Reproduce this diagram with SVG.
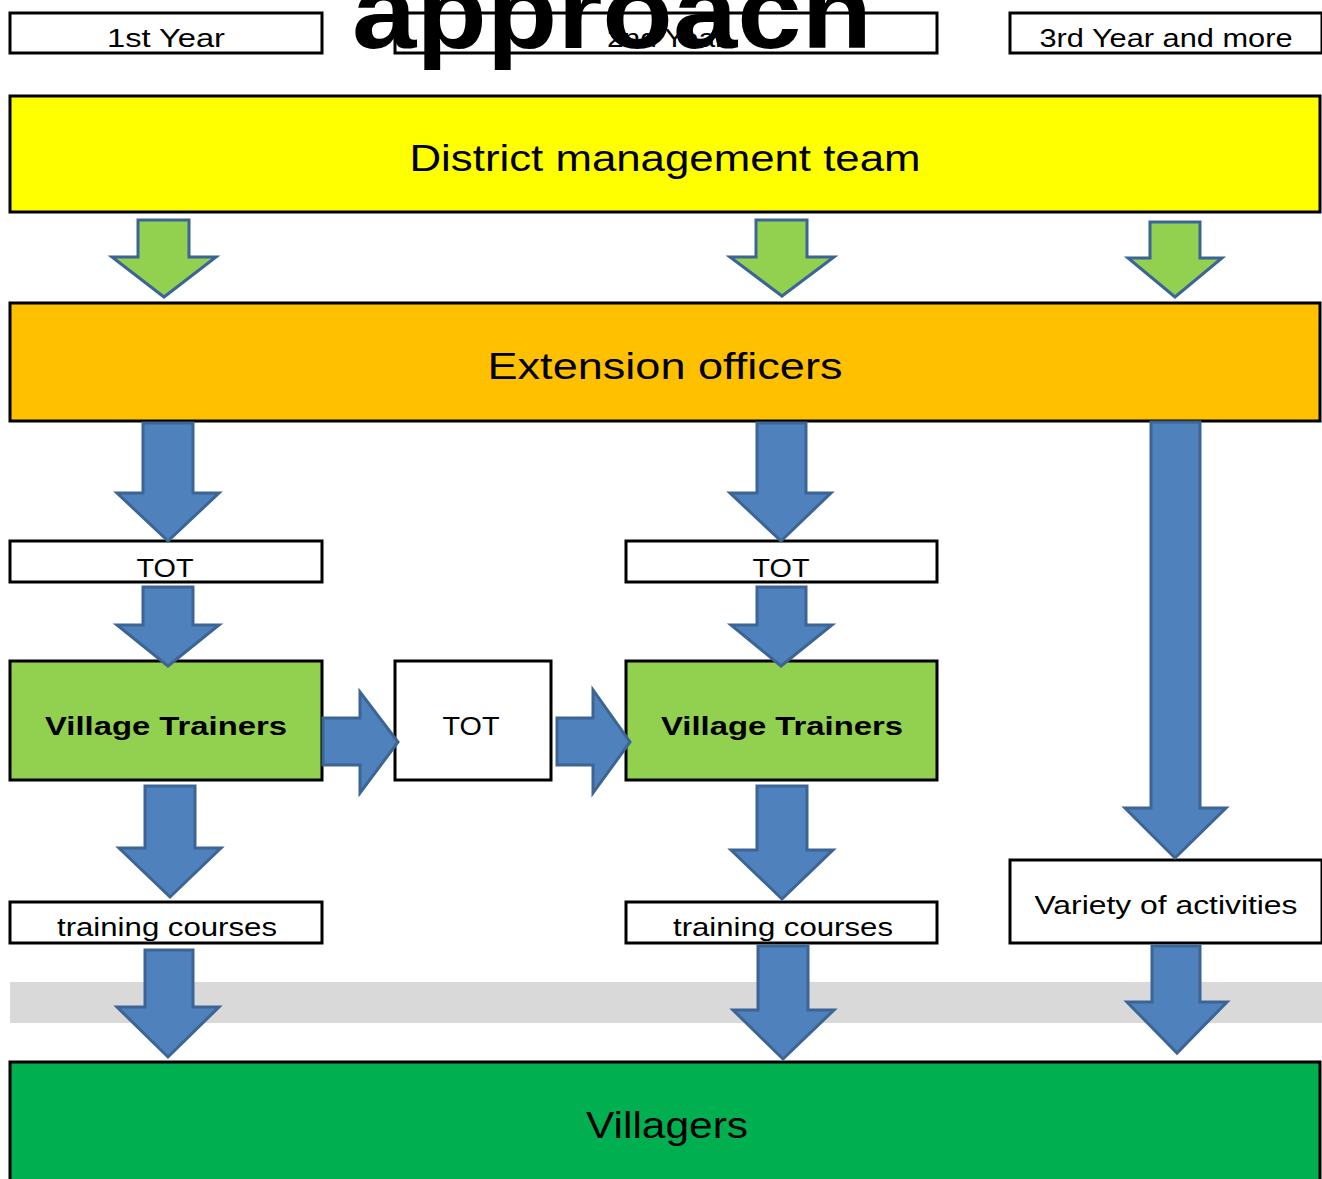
<svg xmlns="http://www.w3.org/2000/svg" width="1322" height="1179" viewBox="0 0 1322 1179">
<style>
.box{stroke:#000;stroke-width:3}
.w{fill:#fff}
.t{font-family:"Liberation Sans",Arial,sans-serif;fill:#000;text-anchor:middle}
.s{font-size:26px}
.l{font-size:37px}
.b{font-weight:bold}
.ab{fill:#4F81BD;stroke:#3C6595;stroke-width:3;stroke-linejoin:miter}
.ag{fill:#92D050;stroke:#3C6595;stroke-width:3;stroke-linejoin:miter}
</style>
<rect x="0" y="0" width="1322" height="1179" fill="#fff"/>
<rect id="band" x="10" y="982" width="1312" height="41" fill="#D9D9D9"/>

<g id="year1"><rect class="box w" x="10" y="13" width="312" height="40"/><text class="t s" x="166" y="47" textLength="118" lengthAdjust="spacingAndGlyphs">1st Year</text></g>
<g id="year2"><rect class="box w" x="395" y="13" width="542" height="40"/><text class="t s" x="666" y="47" textLength="118" lengthAdjust="spacingAndGlyphs">2nd Year</text></g>
<g id="year3"><rect class="box w" x="1010" y="13" width="312" height="40"/><text class="t s" x="1166" y="47" textLength="253" lengthAdjust="spacingAndGlyphs">3rd Year and more</text></g>

<g id="dmt"><rect class="box" x="10" y="96" width="1310" height="116" fill="#FFFF00"/><text class="t l" x="665" y="171" textLength="511" lengthAdjust="spacingAndGlyphs">District management team</text></g>
<g id="eo"><rect class="box" x="10" y="303" width="1310" height="118" fill="#FFC000"/><text class="t l" x="665" y="379" textLength="355" lengthAdjust="spacingAndGlyphs">Extension officers</text></g>

<g id="tot1"><rect class="box w" x="10" y="541" width="312" height="41"/><text class="t s" x="165" y="577" textLength="57" lengthAdjust="spacingAndGlyphs">TOT</text></g>
<g id="tot2"><rect class="box w" x="626" y="541" width="311" height="41"/><text class="t s" x="781" y="577" textLength="57" lengthAdjust="spacingAndGlyphs">TOT</text></g>

<g id="vt1"><rect class="box" x="10" y="661" width="312" height="119" fill="#92D050"/><text class="t s b" x="166" y="735" textLength="242" lengthAdjust="spacingAndGlyphs">Village Trainers</text></g>
<g id="totm"><rect class="box w" x="395" y="661" width="156" height="119"/><text class="t s" x="471" y="735" textLength="57" lengthAdjust="spacingAndGlyphs">TOT</text></g>
<g id="vt2"><rect class="box" x="626" y="661" width="311" height="119" fill="#92D050"/><text class="t s b" x="782" y="735" textLength="242" lengthAdjust="spacingAndGlyphs">Village Trainers</text></g>

<g id="tc1"><rect class="box w" x="10" y="902" width="312" height="41"/><text class="t s" x="167" y="936" textLength="220" lengthAdjust="spacingAndGlyphs">training courses</text></g>
<g id="tc2"><rect class="box w" x="626" y="902" width="311" height="41"/><text class="t s" x="783" y="936" textLength="220" lengthAdjust="spacingAndGlyphs">training courses</text></g>
<g id="voa"><rect class="box w" x="1010" y="860" width="312" height="83"/><text class="t s" x="1166" y="914" textLength="263" lengthAdjust="spacingAndGlyphs">Variety of activities</text></g>

<g id="villagers"><rect class="box" x="10" y="1062" width="1310" height="120" fill="#00B050"/><text class="t l" x="667" y="1138" textLength="162" lengthAdjust="spacingAndGlyphs">Villagers</text></g>

<g id="connectors">
<path class="ag" d="M138,220 L189,220 L189,257 L216,257 L164,297 L112,257 L138,257 Z"/>
<path class="ag" d="M756,220 L807,220 L807,257 L834,257 L782,296 L730,257 L756,257 Z"/>
<path class="ag" d="M1150,222 L1200,222 L1200,258 L1222,258 L1175,297 L1128,258 L1150,258 Z"/>

<path class="ab" d="M143,423 L193,423 L193,493 L219,493 L168,541 L117,493 L143,493 Z"/>
<path class="ab" d="M757,423 L806,423 L806,493 L831,493 L781,541 L730,493 L757,493 Z"/>
<path class="ab" d="M1151,422 L1200,422 L1200,808 L1226,808 L1175,858 L1125,808 L1151,808 Z"/>

<path class="ab" d="M143,587 L193,587 L193,625 L219,625 L168,666 L117,625 L143,625 Z"/>
<path class="ab" d="M757,587 L806,587 L806,625 L832,625 L781,666 L731,625 L757,625 Z"/>

<path class="ab" d="M145,786 L195,786 L195,848 L221,848 L170,897 L119,848 L145,848 Z"/>
<path class="ab" d="M757,786 L807,786 L807,850 L833,850 L782,899 L731,850 L757,850 Z"/>

<path class="ab" d="M145,950 L193,950 L193,1007 L219,1007 L168,1057 L117,1007 L145,1007 Z"/>
<path class="ab" d="M758,946 L808,946 L808,1010 L834,1010 L783,1059 L733,1010 L758,1010 Z"/>
<path class="ab" d="M1152,946 L1200,946 L1200,1002 L1227,1002 L1177,1053 L1127,1002 L1152,1002 Z"/>

<path class="ab" d="M323,718 L360,718 L360,692 L398,742 L360,793 L360,765 L323,765 Z"/>
<path class="ab" d="M557,718 L593,718 L593,690 L630,742 L593,793 L593,765 L557,765 Z"/>
</g>

<text id="title" x="352" y="48" font-family="Liberation Sans,Arial,sans-serif" font-weight="bold" font-size="106" fill="#000" textLength="520" lengthAdjust="spacingAndGlyphs">approach</text>
</svg>
